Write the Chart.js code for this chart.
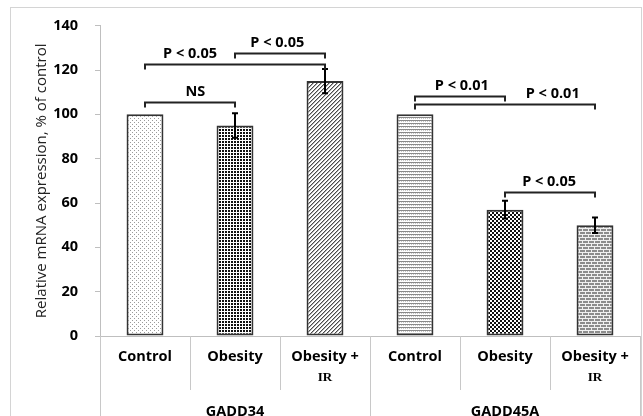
<!DOCTYPE html>
<html>
<head>
<meta charset="utf-8">
<script src="https://cdn.jsdelivr.net/npm/chart.js@4.4.1/dist/chart.umd.min.js"></script>
<style>
  html, body { margin: 0; padding: 0; background: #fff; }
  #wrap { width: 643px; height: 416px; position: relative; }
</style>
</head>
<body>
<div id="wrap"><canvas id="c" width="643" height="416"></canvas></div>
<script>
// Relative mRNA expression (% of control), mean and error per group
const groups = ['GADD34', 'GADD45A'];
const categories = ['Control', 'Obesity', 'Obesity +', 'Control', 'Obesity', 'Obesity +'];
const subLabels = ['', '', 'IR', '', '', 'IR'];
const means = [100, 95, 115, 100, 57, 50];
const errors = [0, 5.5, 5.5, 0, 4, 3.5];
const yTicks = [0, 20, 40, 60, 80, 100, 120, 140];

// Significance brackets between bars
const bracketFrom = [0, 0, 1, 3, 3, 4];
const bracketTo = [1, 2, 2, 4, 5, 5];
const bracketLevel = [105.4, 122.8, 127.7, 108.2, 104.5, 64.8];
const bracketText = ['NS', 'P < 0.05', 'P < 0.05', 'P < 0.01', 'P < 0.01', 'P < 0.05'];
const bracketTextAt = [0.56, 0.5, 1.47, 3.52, 4.53, 4.49];

const canvas = document.getElementById('c');
const ctx = canvas.getContext('2d');

function tile(w, h, draw) {
  const c = document.createElement('canvas');
  c.width = w; c.height = h;
  const g = c.getContext('2d');
  g.fillStyle = '#fff';
  g.fillRect(0, 0, w, h);
  draw(g);
  return ctx.createPattern(c, 'repeat');
}

const fills = [
  // sparse dots
  tile(4, 4, g => { g.fillStyle = '#9a9a9a'; g.fillRect(0, 0, 1, 1); g.fillRect(2, 2, 1, 1); }),
  // dense black dot grid
  tile(3, 3, g => { g.fillStyle = '#111'; g.fillRect(0, 0, 2, 2); }),
  // wide upward diagonal
  tile(4, 4, g => {
    g.fillStyle = '#4a4a4a';
    [[0, 3], [1, 2], [2, 1], [3, 0]].forEach(p => g.fillRect(p[0], p[1], 1, 1));
    g.fillStyle = '#b0b0b0';
    [[1, 3], [2, 2], [3, 1], [0, 0]].forEach(p => g.fillRect(p[0], p[1], 1, 1));
  }),
  // horizontal wavy lines
  tile(4, 3, g => {
    g.fillStyle = '#8a8a8a'; g.fillRect(0, 0, 4, 1);
    g.fillStyle = '#c8c8c8'; g.fillRect(1, 1, 1, 1); g.fillRect(3, 1, 1, 1);
  }),
  // small checkerboard
  tile(4, 4, g => { g.fillStyle = '#111'; g.fillRect(0, 0, 2, 2); g.fillRect(2, 2, 2, 2); }),
  // horizontal brick
  tile(6, 6, g => {
    g.fillStyle = '#8c8c8c'; g.fillRect(0, 0, 6, 6);
    g.fillStyle = '#f0f0f0';
    g.fillRect(0, 0, 6, 1); g.fillRect(0, 3, 6, 1);
    g.fillRect(0, 1, 1, 2); g.fillRect(3, 4, 1, 2);
  })
];

const boldFont = '"Open Sans", sans-serif';

const decorations = {
  id: 'decorations',
  beforeDraw(chart) {
    const c = chart.ctx;
    c.save();
    c.fillStyle = '#fff';
    c.fillRect(0, 0, chart.width, chart.height);
    c.strokeStyle = '#d4d4d4';
    c.lineWidth = 1;
    c.strokeRect(10.5, 7.5, 631, 420);
    c.restore();
  },
  afterDatasetsDraw(chart) {
    const c = chart.ctx;
    const xs = chart.scales.x, ys = chart.scales.y;
    const area = chart.chartArea;
    const bars = chart.getDatasetMeta(0).data;

    // error bars
    c.save();
    c.strokeStyle = '#000';
    c.lineWidth = 2;
    means.forEach((m, i) => {
      if (!errors[i]) return;
      const x = bars[i].x;
      const yHi = ys.getPixelForValue(m + errors[i]);
      const yLo = ys.getPixelForValue(m - errors[i]);
      c.beginPath();
      c.moveTo(x, yHi); c.lineTo(x, yLo);
      c.moveTo(x - 3, yHi); c.lineTo(x + 3, yHi);
      c.moveTo(x - 3, yLo); c.lineTo(x + 3, yLo);
      c.stroke();
    });

    // significance brackets
    c.strokeStyle = '#222';
    c.lineWidth = 2;
    c.fillStyle = '#000';
    c.font = 'bold 14.5px ' + boldFont;
    c.textAlign = 'center';
    c.textBaseline = 'middle';
    bracketFrom.forEach((f, i) => {
      const x1 = bars[f].x, x2 = bars[bracketTo[i]].x;
      const y = Math.round(ys.getPixelForValue(bracketLevel[i])) + 0.5;
      c.beginPath();
      c.moveTo(x1, y + 5); c.lineTo(x1, y); c.lineTo(x2, y); c.lineTo(x2, y + 5);
      c.stroke();
      c.fillText(bracketText[i], xs.getPixelForValue(bracketTextAt[i]), y - 11);
    });

    // category dividers below the axis
    c.strokeStyle = '#c8c8c8';
    c.lineWidth = 1;
    const n = categories.length;
    for (let k = 0; k <= n; k++) {
      let x;
      if (k === 0) x = area.left;
      else if (k === n) x = area.right;
      else x = (xs.getPixelForValue(k - 1) + xs.getPixelForValue(k)) / 2;
      x = Math.round(x) + 0.5;
      const long = k % 3 === 0;
      c.beginPath();
      c.moveTo(x, area.bottom);
      c.lineTo(x, long ? chart.height : area.bottom + 54);
      c.stroke();
    }

    // category and group labels
    c.fillStyle = '#000';
    categories.forEach((lab, i) => {
      const x = xs.getPixelForValue(i);
      c.font = 'bold 14.5px ' + boldFont;
      c.fillText(lab, x, area.bottom + 21);
      if (subLabels[i]) {
        c.font = 'bold 13px "Liberation Serif", serif';
        c.fillText(subLabels[i], x, area.bottom + 42);
      }
    });
    c.font = 'bold 14.5px ' + boldFont;
    groups.forEach((g, gi) => {
      const x = (xs.getPixelForValue(gi * 3) + xs.getPixelForValue(gi * 3 + 2)) / 2;
      c.fillText(g, x, area.bottom + 76);
    });
    c.restore();
  }
};

new Chart(ctx, {
  type: 'bar',
  data: {
    labels: categories,
    datasets: [{
      data: means,
      backgroundColor: fills,
      borderColor: '#333',
      borderWidth: 2,
      borderSkipped: false,
      categoryPercentage: 1,
      barPercentage: 0.41
    }]
  },
  options: {
    responsive: false,
    animation: false,
    devicePixelRatio: 1,
    layout: { padding: { left: 0, right: 3, top: 22, bottom: 0 } },
    plugins: { legend: { display: false }, tooltip: { enabled: false } },
    scales: {
      x: {
        grid: { display: false },
        border: { display: true, color: '#bfbfbf', width: 1 },
        ticks: { display: false },
        afterFit(s) { s.height = 80; }
      },
      y: {
        min: 0,
        max: 140,
        afterBuildTicks(s) { s.ticks = yTicks.map(v => ({ value: v })); },
        grid: { drawOnChartArea: false, drawTicks: true, tickLength: 5, color: '#bfbfbf' },
        border: { color: '#bfbfbf', width: 1 },
        ticks: { padding: 17, color: '#000', font: { family: boldFont, weight: 'bold', size: 14.5 } },
        title: {
          display: true,
          text: 'Relative mRNA expression, % of control',
          color: '#222',
          font: { family: boldFont, size: 15 },
          padding: { top: 33, bottom: 0 }
        },
        afterFit(s) { s.width = 100; }
      }
    }
  },
  plugins: [decorations]
});
</script>
</body>
</html>
